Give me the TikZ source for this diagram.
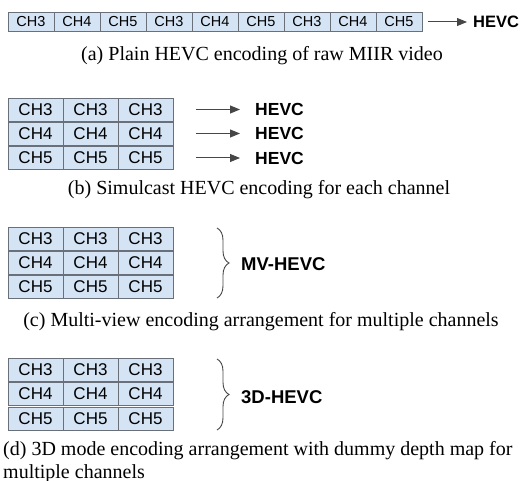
\documentclass[tikz,border=0pt]{standalone}
\usepackage{fontspec}
\setmainfont{Liberation Serif}
\setsansfont{Liberation Sans}
\usetikzlibrary{decorations.pathreplacing,arrows.meta}
\definecolor{cellfill}{RGB}{212,228,244}
\definecolor{cellborder}{RGB}{105,112,122}
\definecolor{arrgray}{RGB}{70,70,70}
\tikzset{
  cellA/.style={draw=cellborder,fill=cellfill,line width=0.9pt,minimum width=46pt,minimum height=19pt,inner sep=0pt,font=\sffamily\fontsize{14.5}{14.5}\selectfont},
  cellB/.style={draw=cellborder,fill=cellfill,line width=0.9pt,minimum width=55pt,minimum height=23pt,inner sep=0pt,font=\sffamily\fontsize{17}{17}\selectfont},
  enc/.style={anchor=west,inner sep=0pt,font=\sffamily\bfseries\fontsize{17.5}{17.5}\selectfont},
  encbig/.style={enc,font=\sffamily\bfseries\fontsize{18.5}{18.5}\selectfont},
  captext/.style={anchor=base,inner sep=0pt,font=\fontsize{20}{20}\selectfont},
  arr/.style={draw=arrgray,line width=1pt,-{Triangle[length=10pt,width=8pt]}},
  brc/.style={draw=arrgray,line width=0.9pt,decorate,decoration={brace,amplitude=12pt}}
}
\begin{document}
\begin{tikzpicture}[x=1pt,y=-1pt]
\useasboundingbox (0,0) rectangle (520,481);
% (a)
\foreach \i/\t in {1/CH3,2/CH4,3/CH5,4/CH3,5/CH4,6/CH5,7/CH3,8/CH4,9/CH5}
  \node[cellA] (a\i) at ({8+23+46*(\i-1)},22) {\t};
\node[enc,font=\sffamily\bfseries\fontsize{16.5}{16.5}\selectfont] (ha) at (473,22) {HEVC};
\draw[arr] ([xshift=6pt]a9.east) -- ([xshift=-6pt]ha.west);
\node[captext] (capa) at (262,61) {(a) Plain HEVC encoding of raw MIIR video};
% (b)
\foreach \r/\t/\y in {1/CH3/109.5,2/CH4/133.5,3/CH5/158}{
  \foreach \c in {1,2,3}
    \node[cellB] (b\r\c) at ({8+27.5+55*(\c-1)},\y) {\t};
  \node[enc] (hb\r) at (255,\y) {HEVC};
  \draw[arr] ([xshift=23pt]b\r3.east) -- ([xshift=-15pt]hb\r.west);
}
\node[captext] (capb) at (259,195) {(b) Simulcast HEVC encoding for each channel};
% (c)
\foreach \r/\t/\y in {1/CH3/238.5,2/CH4/262.5,3/CH5/287}{
  \foreach \c in {1,2,3}
    \node[cellB] (c\r\c) at ({8+27.5+55*(\c-1)},\y) {\t};
}
\node[encbig] (mv) at (241,264) {MV-HEVC};
\coordinate (cbt) at (217,228);
\coordinate (cbb) at (217,298);
\draw[brc] (cbt) -- (cbb);
\node[captext] (capc) at (261,327) {(c) Multi-view encoding arrangement for multiple channels};
% (d)
\foreach \r/\t/\y in {1/CH3/370,2/CH4/394,3/CH5/419}{
  \foreach \c in {1,2,3}
    \node[cellB] (d\r\c) at ({8+27.5+55*(\c-1)},\y) {\t};
}
\node[encbig] (td) at (241,397) {3D-HEVC};
\coordinate (dbt) at (217,359);
\coordinate (dbb) at (217,430);
\draw[brc] (dbt) -- (dbb);
\node[captext,anchor=base west] (capd1) at (3,455) {(d) 3D mode encoding arrangement with dummy depth map for};
\node[captext,anchor=base west] (capd2) at (3,478) {multiple channels};
\end{tikzpicture}
\end{document}
